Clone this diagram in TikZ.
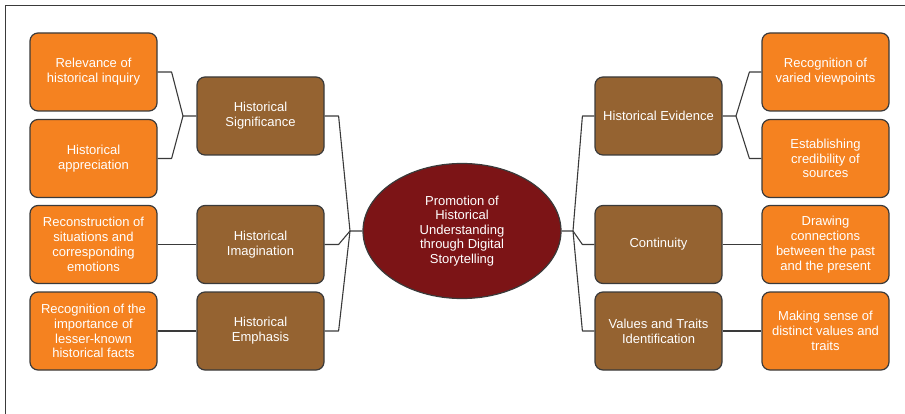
\documentclass[tikz,border=0pt]{standalone}
\usepackage{fontspec}
\setmainfont{Liberation Sans}
\usetikzlibrary{shapes.geometric}
\definecolor{leafcol}{HTML}{F58220}
\definecolor{themecol}{HTML}{956331}
\definecolor{corecol}{HTML}{7C1416}
\definecolor{edgecol}{HTML}{3A3A3A}
\begin{document}
\begin{tikzpicture}[x=1pt,y=-1pt,
  boxbase/.style={draw=edgecol, line width=1.2pt, rounded corners=8pt,
    minimum width=127pt, minimum height=78pt, inner sep=2pt,
    text=white, align=center,
    font=\fontsize{13}{14.8}\selectfont},
  leaf/.style={boxbase, fill=leafcol},
  theme/.style={boxbase, fill=themecol},
  core/.style={ellipse, draw=edgecol, line width=1.2pt, fill=corecol,
    minimum width=198pt, minimum height=135pt, inner sep=0pt,
    text=white, align=center, font=\fontsize{13}{14.4}\selectfont},
  link/.style={draw=edgecol, line width=1.1pt, line join=round}]
\useasboundingbox (0,0) rectangle (905,414);
% outer frame (left and top edges)
\draw[edgecol, line width=1.4pt] (5.5,414) -- (5.5,5.5) -- (905,5.5);

% central idea
\node[core] (prom) at (462,231) {Promotion of\\Historical\\Understanding\\through Digital\\Storytelling};

% left branch
\node[theme] (sig) at (260.5,116) {Historical\\Significance};
\node[theme] (ima) at (260.5,244.5) {Historical\\Imagination};
\node[theme] (emp) at (260.5,331) {Historical\\Emphasis};
\node[leaf] (rel) at (93.5,72) {Relevance of\\historical inquiry};
\node[leaf] (app) at (93.5,158.5) {Historical\\appreciation};
\node[leaf] (rec) at (93.5,244.5) {Reconstruction of\\situations and\\corresponding\\emotions};
\node[leaf] (imp) at (93.5,331) {Recognition of the\\importance of\\lesser-known\\historical facts};

% right branch
\node[theme] (evi) at (658.5,116) {Historical Evidence};
\node[theme] (con) at (658.5,244.5) {Continuity};
\node[theme] (val) at (658.5,331) {Values and Traits\\Identification};
\node[leaf] (vie) at (825.5,72) {Recognition of\\varied viewpoints};
\node[leaf] (cre) at (825.5,158.5) {Establishing\\credibility of\\sources};
\node[leaf] (dra) at (825.5,244.5) {Drawing\\connections\\between the past\\and the present};
\node[leaf] (mak) at (825.5,331) {Making sense of\\distinct values and\\traits};

% junction points
\coordinate (jL) at (350,231);
\coordinate (jR) at (573,231);
\coordinate (jSig) at (183,116);
\coordinate (jEvi) at (736,116);

% core to themes
\draw[link] (prom.west) -- (jL) -- ([xshift=14pt]sig.east) -- (sig.east);
\draw[link] (jL) -- ([xshift=14pt]ima.east) -- (ima.east);
\draw[link] (jL) -- ([xshift=14pt]emp.east) -- (emp.east);
\draw[link] (prom.east) -- (jR) -- ([xshift=-12pt]evi.west) -- (evi.west);
\draw[link] (jR) -- ([xshift=-12pt]con.west) -- (con.west);
\draw[link] (jR) -- ([xshift=-12pt]val.west) -- (val.west);

% themes to leaves
\draw[link] (sig.west) -- (jSig) -- ([xshift=14pt]rel.east) -- (rel.east);
\draw[link] (jSig) -- ([xshift=14pt]app.east) -- (app.east);
\draw[link] (ima.west) -- (rec.east);
\draw[link] (emp.west) -- (imp.east);
\draw[link] (evi.east) -- (jEvi) -- ([xshift=-12pt]vie.west) -- (vie.west);
\draw[link] (jEvi) -- ([xshift=-12pt]cre.west) -- (cre.west);
\draw[link] (con.east) -- (dra.west);
\draw[link] (val.east) -- (mak.west);
\end{tikzpicture}
\end{document}
